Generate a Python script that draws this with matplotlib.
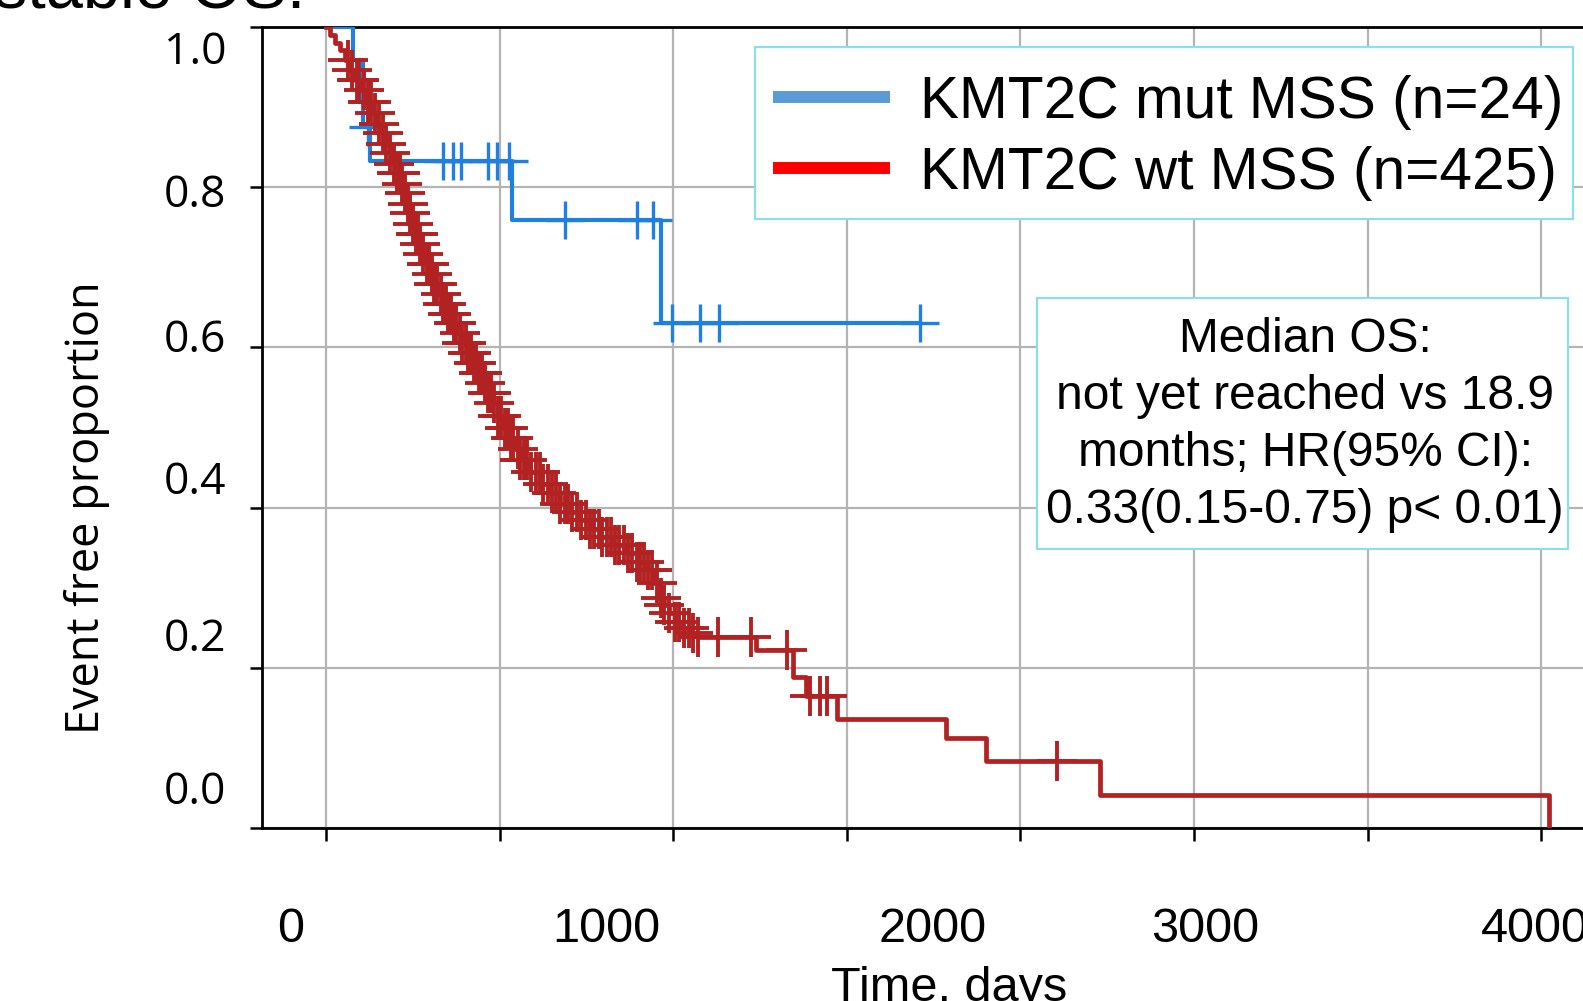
import numpy as np
import matplotlib
matplotlib.use("Agg")
import matplotlib.pyplot as plt
from matplotlib.lines import Line2D
from matplotlib.patches import Rectangle

# Kaplan-Meier steps: time (days) and event free proportion after the step
mut_t = [0, 79, 108, 127, 535, 965, 1712]
mut_s = [1.0, 0.958, 0.875, 0.833, 0.759, 0.631, 0.631]
mut_cens = [122, 336, 367, 388, 466, 494, 528, 689, 897, 941, 996, 1076, 1131, 1712]

wt_t = [0, 12, 25, 40, 55, 69, 84, 98, 115, 132,
        146, 160, 172, 184, 194, 203, 213, 223, 230, 237,
        246, 256, 266, 277, 288, 300, 312, 324, 336, 348,
        362, 377, 391, 405, 420, 434, 452, 466, 480, 495,
        510, 527, 545, 560, 588, 616, 645, 674, 703, 732,
        760, 789, 828, 866, 895, 924, 945, 962, 975, 988,
        1005, 1020, 1050, 1068, 1240, 1346, 1384, 1471, 1786, 1900,
        2228, 3522]
wt_s = [1.0, 0.99, 0.98, 0.971, 0.958, 0.946, 0.933, 0.921, 0.906, 0.892,
        0.879, 0.867, 0.854, 0.842, 0.829, 0.817, 0.804, 0.792, 0.779, 0.767,
        0.754, 0.742, 0.729, 0.717, 0.704, 0.692, 0.679, 0.667, 0.654, 0.642,
        0.630, 0.618, 0.605, 0.593, 0.580, 0.568, 0.555, 0.543, 0.530, 0.515,
        0.500, 0.487, 0.473, 0.459, 0.445, 0.430, 0.418, 0.405, 0.395, 0.385,
        0.374, 0.364, 0.353, 0.343, 0.332, 0.322, 0.306, 0.287, 0.278, 0.268,
        0.258, 0.250, 0.244, 0.239, 0.223, 0.189, 0.165, 0.137, 0.113, 0.084,
        0.042, 0.0]
wt_cens = [62, 75, 88, 95, 110, 122, 130, 140, 152, 165, 172, 185, 195,
           205, 212, 220, 228, 235, 243, 250, 258, 265, 272, 280, 290, 298,
           305, 312, 320, 330, 338, 345, 352, 360, 368, 375, 385, 392,
           402, 410, 418, 425, 433, 440, 450, 458, 466, 475, 485, 495,
           505, 515, 525, 532, 540, 552, 560, 570, 580, 590,
           605, 615, 625, 640, 650, 662, 675, 688, 698,
           710, 722, 735, 748, 760, 772, 785, 795,
           808, 820, 832, 845, 858, 870, 882, 895,
           905, 915, 928, 940, 952, 965, 975, 988,
           1005, 1018, 1030, 1045, 1058, 1071,
           1130, 1223, 1327, 1395, 1423, 1442, 2105]

labels = ["KMT2C mut MSS (n=24)", "KMT2C wt MSS (n=425)"]
note = "Median OS:\nnot yet reached vs 18.9\nmonths; HR(95% CI):\n0.33(0.15-0.75) p< 0.01)"

# the pasted tick labels do not sit on the grid, so they get their own positions
grid_x = [0, 500, 1000, 1500, 2000, 2500, 3000, 3500]
grid_y = [0.0, 0.2, 0.4, 0.6, 0.8, 1.0]
xlab_pos = [-101, 806, 1748, 2533, 3481]
xlab_txt = ["0", "1000", "2000", "3000", "4000"]
ylab_pos = [0.974, 0.796, 0.615, 0.438, 0.242, 0.051]
ylab_txt = ["1.0", "0.8", "0.6", "0.4", "0.2", "0.0"]


def step_value(t_steps, s_steps, t):
    i = np.searchsorted(t_steps, t, side='right') - 1
    return np.asarray(s_steps)[i]


red = '#b22222'
blue = '#1f80e0'
cyan = '#8fdde8'
arial = 'Liberation Sans'
W, H = 1583, 1001

fig = plt.figure(figsize=(15.83, 10.01), dpi=100)
ax = fig.add_axes([0.1658, 0.1725, 0.8516, 0.8008])

ax.step(mut_t, mut_s, where='post', color=blue, lw=3, zorder=3)
ax.plot(mut_cens, step_value(mut_t, mut_s, mut_cens), ls='none', marker='+',
        ms=28, mew=2.4, color=blue, zorder=3)
ax.step(wt_t, wt_s, where='post', color=red, lw=3.4, zorder=4)
ax.plot(wt_cens, step_value(wt_t, wt_s, wt_cens), ls='none', marker='+',
        ms=29, mew=2.8, color=red, zorder=4)

ax.set_xlim(-183, 3700)
ax.set_ylim(0, 1)

ax.set_xticks(grid_x, minor=True)
ax.set_yticks(grid_y, minor=True)
ax.set_xticks(xlab_pos)
ax.set_xticklabels(xlab_txt, family=arial, fontsize=35)
ax.set_yticks(ylab_pos)
ax.set_yticklabels(ylab_txt, family='Open Sans', fontsize=32)
ax.tick_params(which='major', length=0)
ax.tick_params(axis='x', which='major', pad=57)
ax.tick_params(axis='y', which='major', pad=26)
ax.tick_params(which='minor', length=9, width=1.8, color='black', direction='out')
ax.grid(True, which='minor', color='#b4b4b4', lw=1.6)
ax.set_axisbelow(True)

for side in ['left', 'top', 'bottom']:
    ax.spines[side].set_linewidth(2)
    ax.spines[side].set_color('black')
ax.spines['right'].set_visible(False)

ax.set_ylabel('Event free proportion', family='Open Sans', fontsize=32.5)
ax.yaxis.set_label_coords(-0.113, 0.40)
ax.set_xlabel('Time, days', family=arial, fontsize=35)
ax.xaxis.set_label_coords(0.5093, -0.172)

# legend box drawn on its own so its size matches the pasted one
leg_box = Rectangle((755 / W, 1 - 219 / H), 818 / W, 171.5 / H, transform=fig.transFigure,
                    facecolor='white', edgecolor=cyan, lw=1.6, zorder=5)
fig.add_artist(leg_box)
handles = [Line2D([], [], color='#5b9bd5', lw=8.6, solid_capstyle='butt'),
           Line2D([], [], color='#ff0000', lw=8.6, solid_capstyle='butt')]
leg = fig.legend(handles, labels, loc='upper left',
                 bbox_to_anchor=(773 / W, 1 - 75 / H), bbox_transform=fig.transFigure,
                 borderaxespad=0, borderpad=0, prop={'family': arial, 'size': 42.2},
                 handlelength=2.0, handletextpad=0.51, labelspacing=0.27, frameon=False)
leg.set_zorder(6)

box = Rectangle((1037 / W, 1 - 549 / H), 531 / W, 251 / H,
                transform=fig.transFigure, facecolor='white', edgecolor=cyan, lw=1.6, zorder=5)
fig.add_artist(box)
fig.text(1305 / W, 1 - 425 / H, note, ha='center', va='center', multialignment='center',
         family=arial, fontsize=34.5, linespacing=1.334, zorder=6)

# caption cut off at the top of the picture
fig.text(305 / W, 1 - 8 / H, 'stable OS.', ha='right', va='baseline',
         family=arial, fontsize=48)

fig.savefig('out.png', dpi=100)
